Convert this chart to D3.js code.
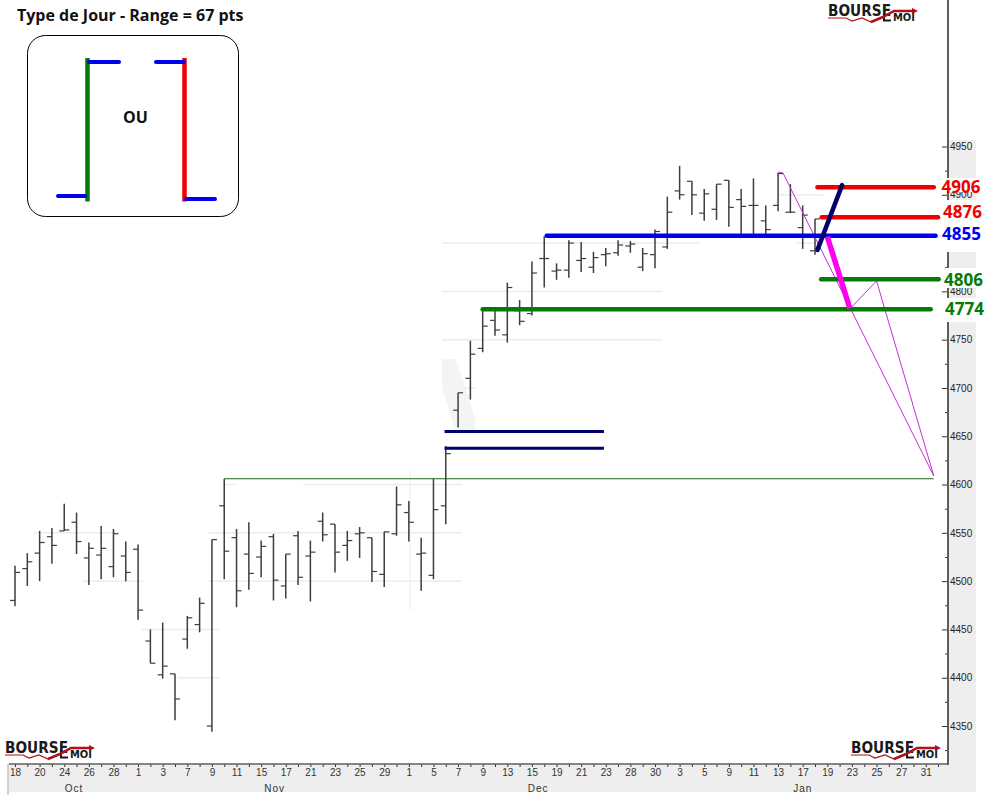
<!DOCTYPE html>
<html>
<head>
<meta charset="utf-8">
<script src="https://d3js.org/d3.v7.min.js"></script>
<style>
html, body { margin: 0; padding: 0; background: #fff; }
svg { display: block; }
</style>
</head>
<body>
<script>
// tick labels, one every second session
var dayLabels = ['18','20','24','26','28','1','3','7','9','11','15','17','21','23','25','29','1','5','7','9','13','15','19','21','23','28','30','3','5','9','11','13','17','19','23','25','27','31'];
var monthLabels = ['Oct', 'Nov', 'Dec', 'Jan'];
var monthIndex = [4.8, 21.1, 42.5, 64];
// 4850 is painted over in the source picture
var priceLabels = [4350, 4400, 4450, 4500, 4550, 4600, 4650, 4700, 4750, 4800, 4900, 4950];
var priceMinor = [4325, 4375, 4425, 4475, 4525, 4575, 4625, 4675, 4725, 4775, 4825, 4875, 4925];

// OHLC
var barOpen = [4480,4513,4529,4546,4552,4561,4524,4527,4515,4526,4533,4438,4403,4404,4440,4455,4350,4578,4545,4528,4525,4546,4495,4547,4526,4562,4559,4537,4549,4545,4507,4549,4571,4528,4506,4578,4677,4710,4741,4770,4755,4780,4777,4834,4821,4822,4832,4825,4838,4840,4847,4825,4838,4846,4904,4914,4881,4885,4915,4895,4889,4873,4889,4882,4866,4842];
var barHigh = [4516,4529,4552,4555,4580,4571,4540,4557,4554,4541,4538,4450,4457,4404,4464,4483,4543,4606,4554,4561,4542,4549,4528,4552,4542,4571,4559,4552,4556,4545,4551,4598,4583,4545,4606,4640,4695,4749,4781,4781,4809,4791,4831,4857,4829,4853,4851,4841,4845,4853,4852,4845,4864,4898,4930,4914,4906,4911,4915,4906,4917,4889,4923,4911,4889,4875];
var barLow = [4474,4495,4500,4518,4552,4528,4496,4502,4504,4500,4460,4415,4399,4356,4430,4447,4344,4502,4473,4491,4504,4480,4482,4496,4479,4541,4509,4521,4524,4499,4494,4547,4541,4490,4502,4559,4659,4688,4737,4754,4747,4765,4775,4804,4812,4814,4820,4819,4826,4837,4840,4821,4824,4844,4895,4879,4873,4874,4867,4859,4858,4859,4883,4881,4844,4838];
var barClose = [4509,4520,4540,4537,4553,4541,4534,4534,4549,4509,4470,4415,4412,4378,4462,4477,4543,4531,4490,4508,4536,4501,4528,4504,4530,4548,4530,4542,4550,4510,4551,4579,4561,4529,4574,4632,4695,4735,4764,4760,4804,4769,4819,4834,4822,4850,4834,4835,4839,4848,4849,4839,4862,4882,4900,4900,4901,4911,4887,4888,4889,4864,4922,4882,4879,4875];

// horizontal levels
var levelPrice = [4857.7, 4907.8, 4876.7, 4812.5, 4781.5];
var levelStart = [43.2, 65.2, 65.55, 65.5, 38];
var levelEnd = [74.8, 74.65, 75, 75.05, 74.4];
var levelColor = ['#0000f0', '#f00000', '#f00000', '#067a06', '#067a06'];
var levelText = ['4855', '4906', '4876', '4806', '4774'];

var navyPrice = [4655, 4637.5];
var navyStart = 34.9, navyEnd = 47.85;

var supportPrice = 4606, supportStart = 17, supportEnd = 74.65;

// diagonal projections, [session, price]
var navyStroke = [[65.2, 4843], [67.2, 4910]];
var magentaStroke = [[66, 4856.6], [67.83, 4782.5]];
var thinPathA = [[62.06, 4923.6], [62.4, 4922.6], [74.65, 4608.9]];
var thinPathB = [[67.83, 4781.8], [70, 4810.8], [74.65, 4608.9]];

// faded gridline remains: price, from session, to session
var gridPrice = [4550,4550,4500,4500,4450,4400,4600,4600,4550,4500,4850,4800,4750,4700,4850,4900];
var gridStart = [1.5,15.7,5.5,15.7,10.3,13.2,17,23.4,19,19,34.7,34.7,34.7,34.7,63.5,62];
var gridEnd = [8.5,19,10.4,19,16.6,16.6,18,36.3,36.3,36.3,55.6,52.6,52.6,37.5,65.7,65.7];
var smear = [[34.7,4730],[35.8,4730],[36.8,4693],[37.4,4667],[37.4,4654],[35.8,4654],[35.2,4680],[34.7,4700]];

var svg = d3.select('body').append('svg')
    .attr('width', 994)
    .attr('height', 800);

var x = d3.scaleLinear().domain([0, 65]).range([15, 815]);
var y = d3.scaleLinear().domain([4350, 4950]).range([726, 146.5]);
var bars = d3.range(barOpen.length);

// axis strips
svg.append('rect').attr('x', 948).attr('y', 140).attr('width', 28).attr('height', 652).attr('fill', '#eeeeee');
svg.append('rect').attr('x', 8).attr('y', 764).attr('width', 968).attr('height', 28).attr('fill', '#eeeeee');
svg.append('rect').attr('x', 7).attr('y', 764).attr('width', 2).attr('height', 31).attr('fill', '#d0d0d0');

// faded grid
svg.selectAll('.grid').data(gridPrice).enter().append('line')
    .attr('class', 'grid')
    .attr('x1', function(d, i) { return x(gridStart[i]); })
    .attr('x2', function(d, i) { return x(gridEnd[i]); })
    .attr('y1', function(d) { return y(d); })
    .attr('y2', function(d) { return y(d); })
    .attr('stroke', '#ececec')
    .attr('stroke-width', 1.5);
svg.append('line')
    .attr('x1', x(32.1)).attr('x2', x(32.1))
    .attr('y1', y(4615)).attr('y2', y(4470))
    .attr('stroke', '#ececec');
svg.append('path')
    .attr('d', d3.line().x(function(d) { return x(d[0]); }).y(function(d) { return y(d[1]); }).curve(d3.curveLinearClosed)(smear))
    .attr('fill', '#f4f4f4');

// price axis: labels sit right of the line, ticks on the left
var yAxis = svg.append('g')
    .attr('transform', 'translate(948,0)')
    .call(d3.axisRight(y).tickValues(priceLabels).tickFormat(d3.format('d')).tickSizeInner(-6).tickSizeOuter(0).tickPadding(2));
yAxis.select('.domain').remove();
yAxis.selectAll('line').attr('stroke', '#333');
yAxis.selectAll('text').attr('font-family', 'Liberation Sans').attr('font-size', 10).attr('fill', '#222');
var yMinor = svg.append('g')
    .attr('transform', 'translate(948,0)')
    .call(d3.axisRight(y).tickValues(priceMinor).tickFormat('').tickSizeInner(-3).tickSizeOuter(0));
yMinor.select('.domain').remove();
yMinor.selectAll('line').attr('stroke', '#333');
svg.append('line').attr('x1', 948).attr('x2', 948).attr('y1', 0).attr('y2', 765).attr('stroke', '#5e5e5e').attr('stroke-width', 2);

// date axis
var xAxis = svg.append('g')
    .attr('transform', 'translate(0,764)')
    .call(d3.axisBottom(x).tickValues(d3.range(76)).tickSizeInner(3).tickSizeOuter(0).tickPadding(2)
        .tickFormat(function(d) { return d % 2 === 0 ? dayLabels[d / 2] : ''; }));
xAxis.select('.domain').remove();
xAxis.selectAll('line').attr('stroke', '#333');
xAxis.selectAll('text').attr('font-family', 'Liberation Sans').attr('font-size', 10).attr('fill', '#333');
svg.append('line').attr('x1', 9).attr('x2', 948).attr('y1', 764).attr('y2', 764).attr('stroke', '#5e5e5e').attr('stroke-width', 1.5);
svg.selectAll('.month').data(monthLabels).enter().append('text')
    .attr('class', 'month')
    .attr('x', function(d, i) { return x(monthIndex[i]); })
    .attr('y', 792)
    .attr('text-anchor', 'middle')
    .attr('font-family', 'Liberation Sans')
    .attr('font-size', 10)
    .attr('letter-spacing', 1)
    .attr('fill', '#333')
    .text(function(d) { return d; });

// price bars
var barG = svg.append('g').attr('stroke', '#3d3d3d');
barG.selectAll('.hl').data(bars).enter().append('line')
    .attr('class', 'hl')
    .attr('x1', function(d) { return x(d); })
    .attr('x2', function(d) { return x(d); })
    .attr('y1', function(d) { return y(barHigh[d]); })
    .attr('y2', function(d) { return y(barLow[d]); })
    .attr('stroke-width', 1.5);
barG.selectAll('.op').data(bars).enter().append('line')
    .attr('class', 'op')
    .attr('x1', function(d) { return x(d) - 5; })
    .attr('x2', function(d) { return x(d); })
    .attr('y1', function(d) { return y(barOpen[d]); })
    .attr('y2', function(d) { return y(barOpen[d]); })
    .attr('stroke-width', 1.2);
barG.selectAll('.cl').data(bars).enter().append('line')
    .attr('class', 'cl')
    .attr('x1', function(d) { return x(d); })
    .attr('x2', function(d) { return x(d) + 5; })
    .attr('y1', function(d) { return y(barClose[d]); })
    .attr('y2', function(d) { return y(barClose[d]); })
    .attr('stroke-width', 1.2);

// white patches pasted over the price axis behind the annotations
var patchTop = [178, 200, 268, 298];
var patchBottom = [192, 252, 288, 322];
svg.selectAll('.patch').data(patchTop).enter().append('rect')
    .attr('class', 'patch')
    .attr('x', 935)
    .attr('y', function(d) { return d; })
    .attr('width', 50)
    .attr('height', function(d, i) { return patchBottom[i] - d; })
    .attr('fill', '#fff');

// thin lines
svg.append('line')
    .attr('x1', x(supportStart)).attr('x2', x(supportEnd))
    .attr('y1', y(supportPrice)).attr('y2', y(supportPrice))
    .attr('stroke', '#1c6b1c');
var pathLine = d3.line().x(function(d) { return x(d[0]); }).y(function(d) { return y(d[1]); });
svg.selectAll('.thin').data([thinPathA, thinPathB]).enter().append('path')
    .attr('class', 'thin')
    .attr('d', pathLine)
    .attr('fill', 'none')
    .attr('stroke', '#c52fd8')
    .attr('stroke-width', 1);

// horizontal levels
svg.selectAll('.navy').data(navyPrice).enter().append('line')
    .attr('class', 'navy')
    .attr('x1', x(navyStart)).attr('x2', x(navyEnd))
    .attr('y1', function(d) { return y(d); })
    .attr('y2', function(d) { return y(d); })
    .attr('stroke', '#00006e')
    .attr('stroke-width', 3);
svg.selectAll('.level').data(levelPrice).enter().append('line')
    .attr('class', 'level')
    .attr('x1', function(d, i) { return x(levelStart[i]); })
    .attr('x2', function(d, i) { return x(levelEnd[i]); })
    .attr('y1', function(d) { return y(d); })
    .attr('y2', function(d) { return y(d); })
    .attr('stroke', function(d, i) { return levelColor[i]; })
    .attr('stroke-width', 4.5)
    .attr('stroke-linecap', 'round');

svg.append('path').attr('d', pathLine(magentaStroke))
    .attr('fill', 'none').attr('stroke', '#ff00f0').attr('stroke-width', 5.5);
svg.append('path').attr('d', pathLine(navyStroke))
    .attr('fill', 'none').attr('stroke', '#00006e').attr('stroke-width', 4.5).attr('stroke-linecap', 'round');

// level labels
var labelLeft = [942, 941.5, 943, 944, 945];
var labelMid = [234, 187, 212, 280, 309];
svg.selectAll('.levelLabel').data(levelText).enter().append('text')
    .attr('class', 'levelLabel')
    .attr('x', function(d, i) { return labelLeft[i]; })
    .attr('y', function(d, i) { return labelMid[i] + 6; })
    .attr('font-family', 'Open Sans')
    .attr('font-weight', 700)
    .attr('font-size', 17)
    .attr('fill', function(d, i) { return levelColor[i]; })
    .text(function(d) { return d; });

// title and legend box
svg.append('text')
    .attr('x', 17).attr('y', 21)
    .attr('font-family', 'Open Sans').attr('font-weight', 700).attr('font-size', 16)
    .attr('fill', '#111')
    .text('Type de Jour - Range = 67 pts');

var legend = svg.append('g');
legend.append('rect')
    .attr('x', 27.5).attr('y', 35.5).attr('width', 211).attr('height', 181)
    .attr('rx', 18).attr('ry', 18)
    .attr('fill', '#fff').attr('stroke', '#000');
legend.append('line').attr('x1', 87.5).attr('x2', 87.5).attr('y1', 58).attr('y2', 201.5).attr('stroke', '#067a06').attr('stroke-width', 4.5);
legend.append('line').attr('x1', 184.5).attr('x2', 184.5).attr('y1', 58).attr('y2', 201.5).attr('stroke', '#f00000').attr('stroke-width', 4.5);
var legendX1 = [58, 89, 156, 186];
var legendX2 = [85, 119, 184, 215];
var legendY = [196, 62, 62, 199];
legend.selectAll('.tickmark').data(legendY).enter().append('line')
    .attr('class', 'tickmark')
    .attr('x1', function(d, i) { return legendX1[i]; })
    .attr('x2', function(d, i) { return legendX2[i]; })
    .attr('y1', function(d) { return d; })
    .attr('y2', function(d) { return d; })
    .attr('stroke', '#0000f0')
    .attr('stroke-width', 4)
    .attr('stroke-linecap', 'round');
legend.append('text')
    .attr('x', 135.5).attr('y', 123)
    .attr('text-anchor', 'middle')
    .attr('font-family', 'Open Sans').attr('font-weight', 700).attr('font-size', 16)
    .attr('fill', '#111')
    .text('OU');

// logo, stamped three times
var logoWave = [[0,14],[18,14],[24,17],[34,14],[43,18],[55,13],[66,7],[85,7]];
function drawLogo(left, top) {
    var g = svg.append('g').attr('transform', 'translate(' + left + ',' + top + ')');
    g.append('text').attr('x', 0).attr('y', 12)
        .attr('font-family', 'DejaVu Sans').attr('font-weight', 700).attr('font-size', 15)
        .attr('textLength', 63).attr('lengthAdjust', 'spacingAndGlyphs')
        .attr('fill', '#1a1a1a').text('BOURSE');
    // the stretched foot of the E, sitting below the wave
    g.append('path').attr('d', d3.line()([[56,9],[56,16.5],[63,16.5]]))
        .attr('fill', 'none').attr('stroke', '#1a1a1a').attr('stroke-width', 2);
    g.append('text').attr('x', 65).attr('y', 17)
        .attr('font-family', 'DejaVu Sans').attr('font-weight', 700).attr('font-size', 10)
        .attr('textLength', 22).attr('lengthAdjust', 'spacingAndGlyphs')
        .attr('fill', '#1a1a1a').text('MOI');
    g.append('path')
        .attr('d', d3.line()(logoWave))
        .attr('fill', 'none').attr('stroke', '#b01218').attr('stroke-width', 1.2);
    g.append('path')
        .attr('d', d3.line()(logoWave.slice(4)))
        .attr('fill', 'none').attr('stroke', '#b01218').attr('stroke-width', 2.5);
    g.append('path')
        .attr('d', d3.line().curve(d3.curveLinearClosed)([[84,4],[90,7],[84,10]]))
        .attr('fill', '#b01218');
}
drawLogo(5, 741);
drawLogo(851, 741);
drawLogo(828, 4);
</script>
</body>
</html>
